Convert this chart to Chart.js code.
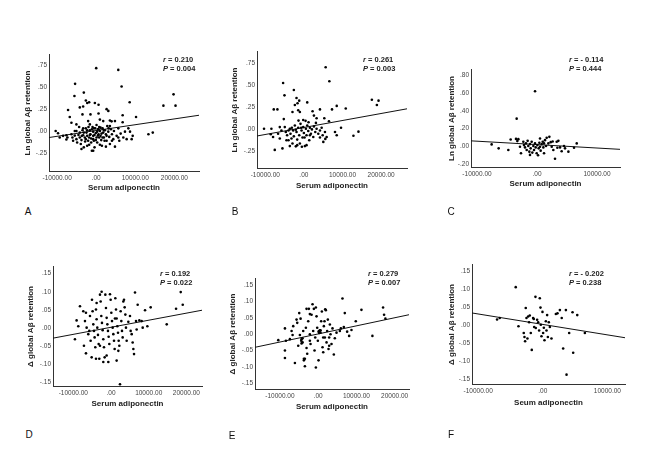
<!DOCTYPE html>
<html>
<head>
<meta charset="utf-8">
<script src="https://cdn.jsdelivr.net/npm/chart.js@4.4.1/dist/chart.umd.min.js"></script>
<style>
body { margin: 0; background: #fff; }
#wrap { position: relative; width: 650px; height: 450px; overflow: hidden; font-family: "Liberation Sans", Arial, sans-serif; }
canvas { position: absolute; }
.stat { position: absolute; font-size: 7.5px; font-weight: bold; color: #222; line-height: 8.6px; white-space: nowrap; }
.tag { position: absolute; font-size: 10px; color: #111; transform: translate(-50%, -50%); }
</style>
</head>
<body>
<div id="wrap"></div>
<script>
// [serum adiponectin, retention]
const pointsA = [[0,0.72],[5650,0.70],[-5400,0.54],[6500,0.51],[-5570,0.40],[-3170,0.44],[19800,0.42],[17200,0.29],[20300,0.29],[8570,0.33],
[-7200,0.24],[-2650,0.35],[-2300,0.32],[-1800,0.33],[-340,0.32],[600,0.30],[-4200,0.27],[-3340,0.28],[2660,0.25],[3100,0.23],
[-6770,0.16],[-3510,0.19],[-1460,0.19],[600,0.20],[6770,0.18],[10200,0.16],[3510,0.12],[3940,0.11],[6770,0.10],[940,0.13],
[13370,-0.038],[14480,-0.019],[9340,-0.056],[8230,0.03],[9080,-0.094],
[-10370,0],[-9770,-0.026],[-9340,-0.075],[-7630,-0.049],[-7370,-0.075],[-7630,-0.098],[-6340,-0.038],[-6080,-0.075],[-5910,-0.113],[-5480,0],
[-5480,-0.053],[-5060,-0.094],[-4880,-0.132],[-4370,0.045],[-4200,-0.019],[-4200,-0.075],[-3940,-0.15],[-3770,-0.105],[-3510,0.008],[-3340,-0.049],
[-3170,-0.188],[-2910,-0.075],[-2830,-0.12],[-2660,0.03],[-2490,-0.019],[-2310,-0.056],[-2060,-0.113],[-1800,-0.158],[-1630,0.075],[-1630,0.008],
[-1460,-0.038],[-1290,-0.086],[-1110,-0.226],[-940,0.045],[-770,-0.008],[-770,-0.056],[-600,-0.113],[-430,-0.188],[-260,0.03],[-90,-0.023],
[90,-0.075],[260,-0.132],[430,0.019],[600,-0.038],[770,0.045],[940,0],[1110,-0.056],[1290,-0.105],[1460,-0.169],[1630,0.03],
[1800,-0.019],[1970,-0.075],[2230,0.008],[2490,-0.038],[2660,-0.113],[2830,0.056],[3090,-0.008],[3340,-0.068],[3510,-0.15],[3770,0.019],
[4030,-0.038],[4370,-0.094],[4540,0],[4800,-0.18],[5230,-0.056],[5660,0.03],[5910,-0.113],[6260,-0.03],[6940,-0.075],[7370,-0.008],
[7800,-0.094],[8660,-0.008],[4800,0.113],[1800,0.113],[90,0.068],[-5060,0.075],[-6340,0.094],[-2060,0.113],[3510,0.056],[-8480,-0.056],
[-3770,-0.207],[-770,-0.226],[-2310,-0.169],[2490,-0.18],[5660,-0.075],[940,-0.158],
[-2310,0.008],[-1800,-0.075],[-1110,0.019],[-430,-0.045],[260,-0.008],[770,-0.075],[1370,-0.03],[2140,-0.113],[2660,-0.056],[-3170,-0.019],
[-3680,-0.056],[-1290,-0.132],[-90,-0.105],[1630,-0.075],[3170,0.03],[4030,-0.113],[-2660,-0.094],[-1630,-0.045],[-600,0.03],[600,0.019],
[1110,0.038],[1970,0.008],[430,-0.053],[-770,-0.094],[-1970,0.045],[-4540,-0.045],[-5060,0],[-3340,0.03]];

const pointsB = [[5640,0.70],[6590,0.54],[-5380,0.52],[-2600,0.44],[-5030,0.38],[-1910,0.35],[-1210,0.32],[-1650,0.29],[870,0.30],[17600,0.33],
[19330,0.32],[18900,0.27],[8500,0.26],[10840,0.23],[7280,0.22],[-7800,0.22],[-6850,0.22],[-2340,0.27],[-2950,0.19],[-1470,0.21],
[-1040,0.19],[2250,0.20],[4160,0.22],[2600,0.15],[3290,0.12],[5290,0.12],[-5200,0.11],[-170,0.10],[430,0.09],[6500,0.085],
[12830,-0.08],[14130,-0.033],[9620,0.011],[8500,-0.074],[8060,-0.037],[5460,-0.037],[5900,-0.093],[5550,-0.115],[5030,-0.149],[4160,-0.1],
[-10320,0],[-8410,0],[-8580,-0.063],[-7980,-0.093],[-7540,-0.24],[-5550,-0.223],[-6680,-0.056],[-6240,-0.11],[-5810,-0.019],
[-4940,0.019],[-4680,-0.037],[-4340,-0.074],[-3990,-0.13],[-3640,0],[-3470,-0.056],[-3210,-0.11],[-2950,-0.167],[-2770,-0.019],[-2600,-0.086],
[-2340,0.037],[-2080,-0.2],[-1910,-0.037],[-1730,-0.123],[-1470,0.011],[-1210,-0.074],[-1040,-0.167],[-870,0.056],[-610,-0.019],[-350,-0.1],
[-170,0.019],[0,-0.048],[260,-0.197],[520,0],[690,-0.074],[870,0.037],[1130,-0.026],[1390,-0.13],[1560,0.011],[1820,-0.056],
[2080,-0.007],[2430,-0.093],[2600,0.026],[2950,-0.037],[3290,0],[3730,-0.056],[4160,-0.019],[4600,0.011],[4860,-0.074],[-1730,-0.186],
[-520,-0.204],[690,-0.186],[-3640,-0.197],[-4510,-0.13],[-3120,0.011],[-2080,-0.011],[170,-0.1],[-1390,0.093],[1210,0.074],[3120,0.067],
[1560,-0.074],[-690,0.011],[-3990,-0.019],[-6240,0.019]];

const pointsC = [[-330,0.62],[-3390,0.31],[-7560,0.019],[-6390,-0.026],[-4780,-0.044],[-4390,0.074],[-3500,0.081],[-3110,0.078],[-3280,0.056],[-2840,-0.007],
[-2670,-0.081],[-2280,0.048],[-2170,0.011],[-2000,-0.015],[-1840,0.03],[-1720,-0.044],[-1560,0.059],[-1450,0],[-1280,-0.063],[-1170,0.022],
[-1060,-0.026],[-890,0.048],[-780,-0.074],[-610,0],[-500,-0.044],[-330,0.03],[-220,-0.015],[-60,-0.081],[60,0.011],[170,-0.104],
[280,-0.026],[390,0.037],[500,-0.007],[610,-0.052],[780,0.022],[950,0.048],[1060,-0.015],[1170,0.03],[1330,0.067],[1500,0],
[1610,0.093],[1890,0.03],[2060,0.104],[2280,0.044],[2450,-0.007],[2610,0.052],[2720,-0.044],[3000,-0.144],[3280,0.048],[3390,-0.019],
[3560,0.059],[3840,-0.015],[4110,-0.059],[4500,0],[4670,-0.026],[5230,-0.063],[6170,-0.019],[6620,0.03],[500,0.085],[1170,-0.081],
[-1170,-0.1]];

const pointsD = [[-9560,-0.031],[-8670,0.005],[-9120,0.021],[-8230,0.06],[-7350,0.046],[-6900,0.019],[-6640,0.042],[-6460,0.001],[-7170,-0.049],[-6640,-0.07],
[-6020,-0.017],[-5750,-0.008],[-5570,0.033],[-5400,-0.035],[-5130,-0.081],[-4870,0.046],[-4690,0.01],[-4510,-0.008],[-4340,-0.026],[-4160,-0.053],
[-3980,0.051],[-3810,0.024],[-3630,0.001],[-3450,-0.019],[-3270,-0.044],[-3100,-0.085],[-2920,0.092],[-2740,0.073],[-2570,0.033],[-2390,0.014],
[-2210,-0.006],[-2040,-0.031],[-1860,-0.053],[-1680,-0.081],[-1500,0.092],[-1330,0.055],[-1150,0.028],[-970,0.01],[-800,-0.008],[-620,-0.024],
[-440,-0.044],[-270,0.093],[-90,0.078],[90,0.042],[270,0.019],[440,0.001],[620,-0.017],[800,-0.035],[970,-0.058],[1150,0.082],
[1330,0.051],[1500,0.026],[1680,0.005],[1860,-0.013],[2040,-0.035],[2210,-0.049],[2390,-0.155],[2570,0.046],[2740,0.019],[2920,-0.008],
[3100,-0.026],[3270,0.073],[3450,0.078],[3630,0.057],[3810,0.037],[3980,0.001],[4160,-0.035],[4600,0.017],[5040,0.033],[5220,-0.008],
[5490,-0.017],[5750,-0.04],[5930,-0.058],[6110,-0.072],[6370,0.098],[6640,0.019],[6810,-0.004],[7080,0.064],[7520,0.021],[8140,0.019],
[8410,0.001],[9030,0.049],[9650,0.005],[10530,0.057],[14780,0.01],[17260,0.053],[18500,0.099],[19030,0.064],[-5040,0.078],[-3810,0.069],
[-2480,0.1],[1060,0.026],[1950,-0.063],[-1150,-0.076],[-2920,-0.049],[-710,-0.094],[1500,-0.09],[-3980,-0.085],[-2040,-0.094]];

const pointsE = [[-10440,-0.018],[-8700,0.018],[-8440,-0.02],[-8700,-0.05],[-8700,-0.073],[-7400,-0.015],[-6960,0.01],[-6700,-0.002],[-6530,0.025],[-6090,-0.088],
[-5660,0.045],[-5480,0.035],[-5220,-0.035],[-4960,0.065],[-4790,-0.002],[-4610,0.048],[-4350,-0.015],[-4090,-0.025],[-3920,0.01],[-3740,-0.075],
[-3480,-0.098],[-3220,0.02],[-3050,-0.042],[-2870,-0.06],[-2610,0.04],[-2440,0.078],[-2180,0],[-2000,-0.03],[-1740,0.06],[-1480,0.092],
[-1310,0.01],[-1130,0.078],[-960,-0.05],[-780,-0.01],[-610,-0.102],[-440,0.055],[-260,0.02],[-90,-0.02],[90,-0.08],[260,0.01],
[440,0.012],[610,0.005],[780,0.04],[960,0.07],[1130,-0.04],[1310,-0.01],[1480,0.025],[1650,0.04],[1830,0.077],[2000,0.074],
[2180,-0.025],[2350,0.01],[2520,0.045],[2700,-0.045],[2870,-0.01],[3050,0.03],[3220,0],[3480,-0.03],[3740,0.018],[4090,-0.062],
[4350,-0.012],[4790,0.005],[5660,0.01],[5920,0.018],[6350,0.11],[6700,0.022],[6960,0.065],[7570,0.008],[8090,-0.005],[8700,0.013],
[9830,0.04],[11310,0.075],[14180,-0.005],[16970,0.082],[17230,0.06],[17580,0.048],[90,0.008],[610,0.012],[260,0.004],[-4440,-0.02],
[-4090,-0.012],[-4350,-0.028],[-3050,0.078],[-2180,0.062],[-610,0.082],[1740,-0.01],[2870,-0.035],[1310,-0.055],[-2180,-0.02],[-3480,-0.075],
[-3740,-0.08]];

const pointsF = [[-7080,0.016],[-6670,0.02],[-4190,0.106],[-3770,-0.003],[-2950,-0.022],[-2840,-0.033],[-2740,-0.045],[-2640,0.048],[-2530,0.02],[-2270,0.024],
[-2120,0.008],[-2020,0.027],[-1860,-0.022],[-1710,-0.069],[-1500,0.02],[-1340,-0.005],[-1140,0.079],[-1090,-0.008],[-880,0.015],[-720,0.008],
[-470,0.075],[-360,0.049],[-310,0.001],[-210,-0.031],[-50,0.037],[50,-0.022],[160,-0.007],[260,-0.042],[470,0.011],[570,-0.015],
[670,0.028],[780,-0.033],[930,0.008],[1340,-0.037],[2020,0.031],[2270,0.033],[2640,0.042],[2930,0.02],[3150,-0.065],[3570,0.042],
[3670,-0.138],[4080,-0.022],[4600,0.036],[4700,-0.077],[5330,0.028],[6510,-0.022],[-2380,-0.037],[-570,-0.015],[-1400,0.017],[1090,-0.005]];

// fit line end points (x range of each panel, y at the ends)
const fitA = [[-12080,-0.075],[26310,0.18]];
const fitB = [[-12140,-0.082],[26700,0.227]];
const fitC = [[-11000,0.059],[13830,-0.037]];
const fitD = [[-15380,-0.028],[24140,0.049]];
const fitE = [[-16530,-0.04],[23750,0.06]];
const fitF = [[-10960,0.034],[12720,-0.035]];

const xTicksWide = [-10000, 0, 10000, 20000];
const xTicksNarrow = [-10000, 0, 10000];
const yTicksLn = [-0.25, 0, 0.25, 0.5, 0.75];
const yTicksLnC = [-0.2, 0, 0.2, 0.4, 0.6, 0.8];
const yTicksDelta = [-0.15, -0.1, -0.05, 0, 0.05, 0.1, 0.15];

const statR = ['0.210', '0.261', '- 0.114', '0.192', '0.279', '- 0.202'];
const statP = ['0.004', '0.003', '0.444', '0.022', '0.007', '0.238'];

const panels = [
  { tag: 'A', pts: pointsA, fit: fitA, xr: [-12080, 26310], yr: [-0.459, 0.872], xt: xTicksWide, yt: yTicksLn,
    yTitle: 'Ln global Aβ retention', xTitle: 'Serum adiponectin', box: [49, 53, 199, 171], tx: 28, ty: 188, stat: [163, 56], tagAt: [28, 211] },
  { tag: 'B', pts: pointsB, fit: fitB, xr: [-12140, 26700], yr: [-0.446, 0.874], xt: xTicksWide, yt: yTicksLn,
    yTitle: 'Ln global Aβ retention', xTitle: 'Serum adiponectin', box: [257, 50, 407, 168], tx: 235, ty: 186, stat: [363, 56], tagAt: [235, 211] },
  { tag: 'C', pts: pointsC, fit: fitC, xr: [-11000, 13830], yr: [-0.237, 0.862], xt: xTicksNarrow, yt: yTicksLnC,
    yTitle: 'Ln global Aβ retention', xTitle: 'Serum adiponectin', box: [471, 68, 620, 167], tx: 452, ty: 184, stat: [569, 56], tagAt: [451, 211] },
  { tag: 'D', pts: pointsD, fit: fitD, xr: [-15380, 24140], yr: [-0.160, 0.1685], xt: xTicksWide, yt: yTicksDelta,
    yTitle: 'Δ global Aβ retention', xTitle: 'Serum adiponectin', box: [53, 265, 202, 386], tx: 31, ty: 404, stat: [160, 270], tagAt: [29, 434] },
  { tag: 'E', pts: pointsE, fit: fitE, xr: [-16530, 23750], yr: [-0.168, 0.170], xt: xTicksWide, yt: yTicksDelta,
    yTitle: 'Δ global Aβ retention', xTitle: 'Serum adiponectin', box: [255, 277, 409, 389], tx: 233, ty: 407, stat: [368, 270], tagAt: [232, 435] },
  { tag: 'F', pts: pointsF, fit: fitF, xr: [-10960, 12720], yr: [-0.164, 0.168], xt: xTicksNarrow, yt: yTicksDelta,
    yTitle: 'Δ global Aβ retention', xTitle: 'Seum adiponectin', box: [472, 263, 625, 384], tx: 452, ty: 403, stat: [569, 270], tagAt: [451, 434] }
];

// SPSS style labels: .75, -.25, .00, -10000.00
function spss(v) {
  return Number(v).toFixed(2).replace(/^(-?)0\./, '$1.');
}

const wrap = document.getElementById('wrap');

panels.forEach((p, i) => {
  const left = p.tx - 5, top = p.box[1] - 4, right = p.box[2] + 4, bottom = p.ty + 5;
  const c = document.createElement('canvas');
  c.width = right - left;
  c.height = bottom - top;
  c.style.left = left + 'px';
  c.style.top = top + 'px';
  wrap.appendChild(c);
  const yw = p.box[0] - left, xh = bottom - p.box[3];

  new Chart(c, {
    type: 'scatter',
    data: {
      datasets: [
        { data: p.pts.map(d => ({ x: d[0], y: d[1] })), pointRadius: 1.3, pointBackgroundColor: '#000', pointBorderWidth: 0 },
        { data: p.fit.map(d => ({ x: d[0], y: d[1] })), showLine: true, borderColor: '#111', borderWidth: 1, pointRadius: 0 }
      ]
    },
    options: {
      responsive: false,
      animation: false,
      events: [],
      layout: { padding: { top: 4, right: 4, left: 0, bottom: 0 } },
      plugins: { legend: { display: false }, tooltip: { enabled: false } },
      scales: {
        x: {
          type: 'linear', min: p.xr[0], max: p.xr[1],
          grid: { display: false, drawTicks: false }, border: { color: '#333', width: 1 },
          afterBuildTicks: s => { s.ticks = p.xt.map(v => ({ value: v })); },
          afterFit: s => { s.height = xh; },
          ticks: { callback: spss, autoSkip: false, maxRotation: 0, padding: 3, color: '#444', font: { size: 6.5, family: 'Liberation Sans' } },
          title: { display: true, text: p.xTitle, color: '#222', padding: 0, font: { size: 8, weight: 'bold', family: 'Liberation Sans' } }
        },
        y: {
          type: 'linear', min: p.yr[0], max: p.yr[1],
          grid: { display: false, drawTicks: false }, border: { color: '#333', width: 1 },
          afterBuildTicks: s => { s.ticks = p.yt.map(v => ({ value: v })); },
          afterFit: s => { s.width = yw; },
          ticks: { callback: spss, autoSkip: false, padding: 2, color: '#444', font: { size: 6.5, family: 'Liberation Sans' } },
          title: { display: true, text: p.yTitle, color: '#222', padding: 0, font: { size: 8, weight: 'bold', family: 'Liberation Sans' } }
        }
      }
    }
  });

  const s = document.createElement('div');
  s.className = 'stat';
  s.style.left = p.stat[0] + 'px';
  s.style.top = p.stat[1] + 'px';
  s.innerHTML = '<i>r</i> = ' + statR[i] + '<br><i>P</i> = ' + statP[i];
  wrap.appendChild(s);

  const t = document.createElement('div');
  t.className = 'tag';
  t.style.left = p.tagAt[0] + 'px';
  t.style.top = p.tagAt[1] + 'px';
  t.textContent = p.tag;
  wrap.appendChild(t);
});
</script>
</body>
</html>
